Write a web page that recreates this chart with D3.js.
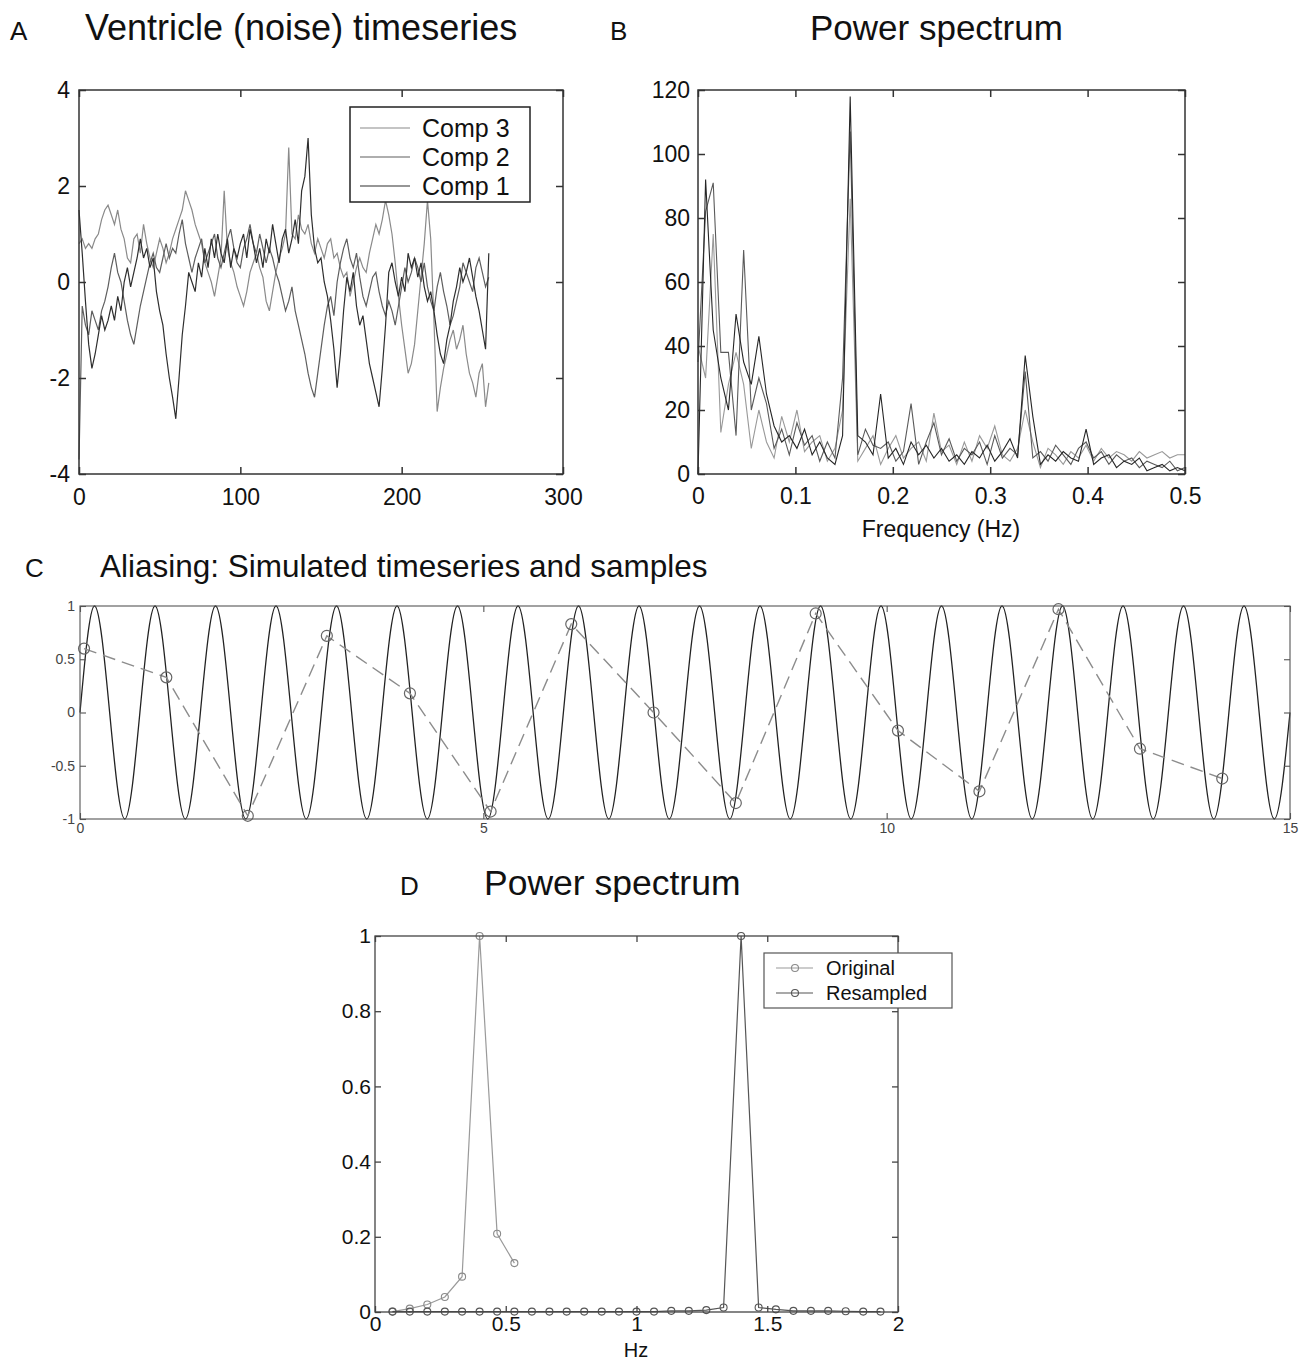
<!DOCTYPE html>
<html>
<head>
<meta charset="utf-8">
<script src="https://cdn.jsdelivr.net/npm/d3@7"></script>
<style>
  body { margin: 0; background: #fff; }
  text { font-family: "Liberation Sans", Arial, Helvetica, sans-serif; }
</style>
</head>
<body>
<svg></svg>
<script>
const width = 1309;
const height = 1360;
const FONT = '"Liberation Sans", Arial, Helvetica, sans-serif';

// ---- panel A: ventricle component timeseries (every 2nd sample) ----
const timeA = d3.range(0, 256, 2);
const comp1 = [1.5,0.6,-0.4,-1.3,-1.8,-1.5,-1.1,-0.7,-1.0,-0.8,
  -0.5,-0.8,-0.3,-0.6,0.0,0.3,-0.1,0.2,0.5,0.9,
  0.5,0.7,0.3,0.5,-0.2,-0.6,-0.9,-1.5,-2.0,-2.4,
  -2.85,-2.0,-1.1,-0.5,0.2,0.0,-0.2,0.4,0.1,0.7,
  0.3,0.9,0.5,1.0,0.6,0.4,0.9,0.3,0.7,0.5,
  0.8,1.0,0.5,1.1,0.8,0.4,0.7,0.3,0.9,0.6,
  1.2,0.8,0.4,0.9,1.1,0.6,0.9,1.3,0.8,1.9,
  2.2,3.0,1.4,0.7,0.4,0.5,0.0,-0.3,-0.8,-1.4,
  -2.2,-1.5,-0.6,0.1,-0.2,0.2,-0.5,-0.9,-0.7,-1.2,
  -1.7,-2.0,-2.3,-2.6,-1.8,-0.9,0.2,0.4,0.0,-0.3,
  0.1,-0.2,0.6,0.3,0.5,0.1,0.4,-0.1,-0.4,-0.2,
  -0.6,-1.1,-1.5,-1.7,-1.2,-0.9,-0.4,-0.1,0.3,0.0,
  0.2,0.5,0.1,-0.3,-0.6,-1.0,-1.4,0.6];
const comp2 = [-3.7,-0.5,-0.9,-1.1,-0.6,-0.8,-1.0,-0.6,-0.4,-0.1,
  0.3,0.6,0.2,0.0,-0.4,-0.8,-1.1,-1.3,-0.9,-0.5,
  -0.2,0.1,0.4,0.6,0.3,0.2,0.5,0.8,0.5,0.7,
  0.6,1.0,1.3,0.8,0.5,0.2,0.5,0.7,0.9,0.4,
  0.6,0.8,1.0,0.5,0.3,0.6,0.9,1.1,0.7,0.4,
  0.3,0.7,0.9,1.2,0.8,0.6,1.0,0.7,0.4,0.7,
  0.5,0.2,0.0,-0.3,-0.6,-0.4,-0.1,-0.6,-0.9,-1.2,
  -1.5,-1.9,-2.2,-2.4,-1.9,-1.4,-0.9,-0.5,-0.3,-0.7,
  0.0,0.4,0.7,0.9,0.5,0.3,0.6,0.1,-0.3,-0.5,
  -0.2,0.1,0.2,-0.2,-0.5,-0.7,-0.4,-0.6,-0.9,-0.5,
  -0.1,0.3,0.0,0.2,0.5,0.3,0.0,0.4,-0.1,-0.4,
  -0.6,-0.1,0.2,-0.2,-0.5,-0.9,-0.7,-0.4,-0.1,0.4,
  0.2,0.0,-0.2,0.3,0.5,0.2,-0.1,0.1];
const comp3 = [0.8,0.9,0.7,0.8,0.7,0.9,1.0,1.3,1.5,1.6,
  1.4,1.2,1.5,1.1,0.9,0.5,0.4,0.9,1.0,0.6,
  1.2,0.8,0.5,0.3,0.6,0.9,0.7,0.4,0.6,0.9,
  1.1,1.3,1.5,1.9,1.7,1.5,1.2,1.0,0.8,0.4,
  0.2,0.0,-0.3,0.1,0.5,1.9,0.7,0.4,0.2,-0.1,
  -0.3,-0.5,-0.2,0.2,0.4,0.6,0.3,0.1,-0.4,-0.6,
  -0.2,0.2,0.5,0.7,1.0,2.8,1.0,0.9,1.4,1.1,
  1.0,1.2,0.8,0.6,0.9,0.7,0.5,0.8,0.9,0.5,
  0.6,0.3,0.1,0.2,-0.3,0.0,0.3,0.5,0.3,0.2,
  0.6,0.9,1.2,1.0,1.3,1.7,1.4,1.0,0.4,-0.3,
  -0.9,-1.4,-1.9,-1.7,-1.3,-0.6,0.1,0.8,1.7,0.9,
  -0.8,-2.7,-2.2,-1.8,-1.5,-1.2,-1.0,-1.4,-1.2,-0.9,
  -1.5,-1.9,-2.1,-2.4,-1.9,-1.7,-2.6,-2.1];
const legendA = ['Comp 3', 'Comp 2', 'Comp 1'];

// ---- panel B: power spectra (bins of 1/128 Hz) ----
const freqB = d3.range(0, 65).map(k => k / 128);
const specB1 = [0,92,45,30,20,50,35,28,43,25,
  15,10,12,8,14,6,10,5,3,12,
  118,12,10,6,25,5,8,3,10,6,
  9,5,8,4,6,3,7,5,9,4,
  7,11,5,37,18,3,6,4,7,5,
  4,14,3,5,6,2,4,3,5,1,
  2,3,1,2,1];
const specB2 = [35,82,91,38,38,12,70,20,30,22,
  8,14,6,16,9,12,4,10,5,30,
  107,6,14,9,8,10,4,7,22,3,
  10,16,6,11,4,8,6,10,3,12,
  5,8,6,32,5,7,4,9,6,3,
  8,10,5,7,3,6,4,5,2,4,
  3,2,4,1,2];
const specB3 = [40,30,75,13,28,38,28,8,20,10,
  5,18,10,20,7,10,12,4,8,20,
  86,4,8,12,3,8,12,5,8,10,
  4,19,7,9,3,10,4,12,8,15,
  6,4,8,20,10,2,8,6,3,7,
  5,9,4,8,5,7,6,4,7,5,
  6,7,5,6,6];

// ---- panel C: simulated sine (extrema read off) and samples ----
const sineT = [0,0.18,0.555,0.93,1.305,1.68,2.055,2.43,2.805,3.18,3.555,
  3.93,4.305,4.68,5.055,5.43,5.805,6.18,6.555,6.93,7.305,
  7.68,8.055,8.43,8.805,9.18,9.555,9.93,10.305,10.68,11.055,
  11.43,11.805,12.18,12.555,12.93,13.305,13.68,14.055,14.43,14.805,15];
const sineV = [0,1,-1,1,-1,1,-1,1,-1,1,-1,
  1,-1,1,-1,1,-1,1,-1,1,-1,
  1,-1,1,-1,1,-1,1,-1,1,-1,
  1,-1,1,-1,1,-1,1,-1,1,-1,0];
const sampleT = [0.05,1.07,2.08,3.06,4.09,5.09,6.09,7.11,8.13,9.12,10.14,11.15,12.13,13.14,14.16];
const sampleV = [0.6,0.33,-0.97,0.72,0.18,-0.93,0.83,0.0,-0.85,0.93,-0.17,-0.74,0.97,-0.34,-0.62];

// ---- panel D: normalised spectra ----
const freqD = [0.067,0.133,0.2,0.267,0.333,0.4,0.467,0.533,0.6,0.667,0.733,0.8,0.867,0.933,1.0,
  1.067,1.133,1.2,1.267,1.333,1.4,1.467,1.533,1.6,1.667,1.733,1.8,1.867,1.933];
const originalD = [0.001,0.009,0.02,0.04,0.094,1.0,0.208,0.13];
const resampledD = [0.001,0.001,0.001,0.001,0.001,0.001,0.001,0.001,0.001,0.001,0.001,0.001,0.001,0.001,0.001,
  0.001,0.003,0.003,0.005,0.012,1.0,0.012,0.007,0.003,0.003,0.003,0.002,0.001,0.001];
const legendD = ['Original', 'Resampled'];

const svg = d3.select('svg').attr('width', width).attr('height', height);

// box with inward ticks on all four sides, labels on bottom/left
function frame(x, y, o) {
  const [x0, x1] = x.range(), [y0, y1] = y.range();
  const g = svg.append('g');
  const sides = [
    [d3.axisBottom(x).tickValues(o.xt).tickFormat(d => String(d)), 0, y0],
    [d3.axisTop(x).tickValues(o.xt).tickFormat(''), 0, y1],
    [d3.axisLeft(y).tickValues(o.yt).tickFormat(d => String(d)), x0, 0],
    [d3.axisRight(y).tickValues(o.yt).tickFormat(''), x1, 0]
  ];
  sides.forEach(([axis, tx, ty], i) => {
    const a = g.append('g').attr('transform', `translate(${tx},${ty})`)
      .call(axis.tickSizeInner(-o.tick).tickSizeOuter(0).tickPadding(i === 0 ? o.padX : o.padY));
    a.attr('font-size', o.fs).attr('font-family', FONT);
    a.select('.domain').remove();
    a.selectAll('.tick line').attr('stroke', o.stroke).attr('stroke-width', o.sw);
    a.selectAll('.tick text').attr('fill', o.color);
  });
  g.append('rect').attr('x', x0).attr('y', y1).attr('width', x1 - x0).attr('height', y0 - y1)
    .attr('fill', 'none').attr('stroke', o.stroke).attr('stroke-width', o.sw);
  return g;
}

function label(x, y, txt, size, anchor) {
  svg.append('text').attr('x', x).attr('y', y).attr('font-size', size)
    .attr('text-anchor', anchor || 'start').attr('fill', '#111').text(txt);
}

// ---------- A ----------
label(10, 40, 'A', 26);
label(85, 40, 'Ventricle (noise) timeseries', 36);
const xA = d3.scaleLinear().domain([0, 300]).range([79, 563]);
const yA = d3.scaleLinear().domain([-4, 4]).range([474, 90]);
const lineA = d3.line().x((d, i) => xA(timeA[i])).y(d => yA(d));
[[comp3, '#8a8a8a'], [comp2, '#5e5e5e'], [comp1, '#2e2e2e']].forEach(([s, c]) => {
  svg.append('path').datum(s).attr('d', lineA).attr('fill', 'none')
    .attr('stroke', c).attr('stroke-width', 1.2);
});
frame(xA, yA, {xt: [0, 100, 200, 300], yt: [-4, -2, 0, 2, 4], tick: 7, padX: 15, padY: 9,
  fs: 23, stroke: '#333', sw: 1.5, color: '#111'});
const legA = svg.append('g');
legA.append('rect').attr('x', 350).attr('y', 107).attr('width', 180).attr('height', 95)
  .attr('fill', '#fff').attr('stroke', '#222').attr('stroke-width', 1.5);
legendA.forEach((name, i) => {
  const cy = 128 + i * 29;
  legA.append('line').attr('x1', 360).attr('x2', 410).attr('y1', cy).attr('y2', cy)
    .attr('stroke', ['#8a8a8a', '#5e5e5e', '#2e2e2e'][i]).attr('stroke-width', 1.2);
  legA.append('text').attr('x', 422).attr('y', cy + 9).attr('font-size', 25).attr('fill', '#111').text(name);
});

// ---------- B ----------
label(610, 40, 'B', 26);
label(810, 40, 'Power spectrum', 35);
const xB = d3.scaleLinear().domain([0, 0.5]).range([698, 1185]);
const yB = d3.scaleLinear().domain([0, 120]).range([474, 90]);
const lineB = d3.line().x((d, i) => xB(freqB[i])).y(d => yB(d));
[[specB3, '#999'], [specB2, '#5a5a5a'], [specB1, '#262626']].forEach(([s, c]) => {
  svg.append('path').datum(s).attr('d', lineB).attr('fill', 'none')
    .attr('stroke', c).attr('stroke-width', 1.1);
});
frame(xB, yB, {xt: [0, 0.1, 0.2, 0.3, 0.4, 0.5], yt: [0, 20, 40, 60, 80, 100, 120], tick: 7,
  padX: 14, padY: 8, fs: 23, stroke: '#333', sw: 1.5, color: '#111'});
label(941, 537, 'Frequency (Hz)', 23, 'middle');

// ---------- C ----------
label(25, 577, 'C', 26);
label(100, 577, 'Aliasing: Simulated timeseries and samples', 31.5);
const xC = d3.scaleLinear().domain([0, 15]).range([80, 1290]);
const yC = d3.scaleLinear().domain([-1, 1]).range([819, 606]);
svg.append('path').datum(sineV)
  .attr('d', d3.line().curve(d3.curveMonotoneX).x((d, i) => xC(sineT[i])).y(d => yC(d)))
  .attr('fill', 'none').attr('stroke', '#222').attr('stroke-width', 1.3);
svg.append('path').datum(sampleV)
  .attr('d', d3.line().x((d, i) => xC(sampleT[i])).y(d => yC(d)))
  .attr('fill', 'none').attr('stroke', '#8c8c8c').attr('stroke-width', 1.4).attr('stroke-dasharray', '13,7');
svg.selectAll('.samp').data(sampleV).enter().append('circle').attr('class', 'samp')
  .attr('cx', (d, i) => xC(sampleT[i])).attr('cy', d => yC(d)).attr('r', 5.5)
  .attr('fill', 'none').attr('stroke', '#666').attr('stroke-width', 1.2);
frame(xC, yC, {xt: [0, 5, 10, 15], yt: [-1, -0.5, 0, 0.5, 1], tick: 6, padX: 4, padY: 5,
  fs: 14, stroke: '#555', sw: 1.1, color: '#444'});

// ---------- D ----------
label(400, 895, 'D', 26);
label(484, 895, 'Power spectrum', 35.5);
const xD = d3.scaleLinear().domain([0, 2]).range([375, 898]);
const yD = d3.scaleLinear().domain([0, 1]).range([1312, 936]);
const seriesD = [[originalD, '#9a9a9a', '#8a8a8a'], [resampledD, '#555', '#555']];
seriesD.forEach(([s, c, m]) => {
  svg.append('path').datum(s).attr('d', d3.line().x((d, i) => xD(freqD[i])).y(d => yD(d)))
    .attr('fill', 'none').attr('stroke', c).attr('stroke-width', 1.2);
  svg.append('g').selectAll('circle').data(s).enter().append('circle')
    .attr('cx', (d, i) => xD(freqD[i])).attr('cy', d => yD(d)).attr('r', 3.5)
    .attr('fill', 'none').attr('stroke', m).attr('stroke-width', 1.1);
});
frame(xD, yD, {xt: [0, 0.5, 1, 1.5, 2], yt: [0, 0.2, 0.4, 0.6, 0.8, 1], tick: 6, padX: 4, padY: 4,
  fs: 21, stroke: '#444', sw: 1.3, color: '#111'});
label(636, 1357, 'Hz', 20, 'middle');
const legD = svg.append('g');
legD.append('rect').attr('x', 764).attr('y', 953).attr('width', 188).attr('height', 55)
  .attr('fill', '#fff').attr('stroke', '#555').attr('stroke-width', 1.2);
legendD.forEach((name, i) => {
  const cy = 968 + i * 25;
  const [, c, m] = seriesD[i];
  legD.append('line').attr('x1', 776).attr('x2', 813).attr('y1', cy).attr('y2', cy)
    .attr('stroke', c).attr('stroke-width', 1.2);
  legD.append('circle').attr('cx', 795).attr('cy', cy).attr('r', 3.5)
    .attr('fill', 'none').attr('stroke', m).attr('stroke-width', 1.1);
  legD.append('text').attr('x', 826).attr('y', cy + 7).attr('font-size', 20).attr('fill', '#111').text(name);
});
</script>
</body>
</html>
